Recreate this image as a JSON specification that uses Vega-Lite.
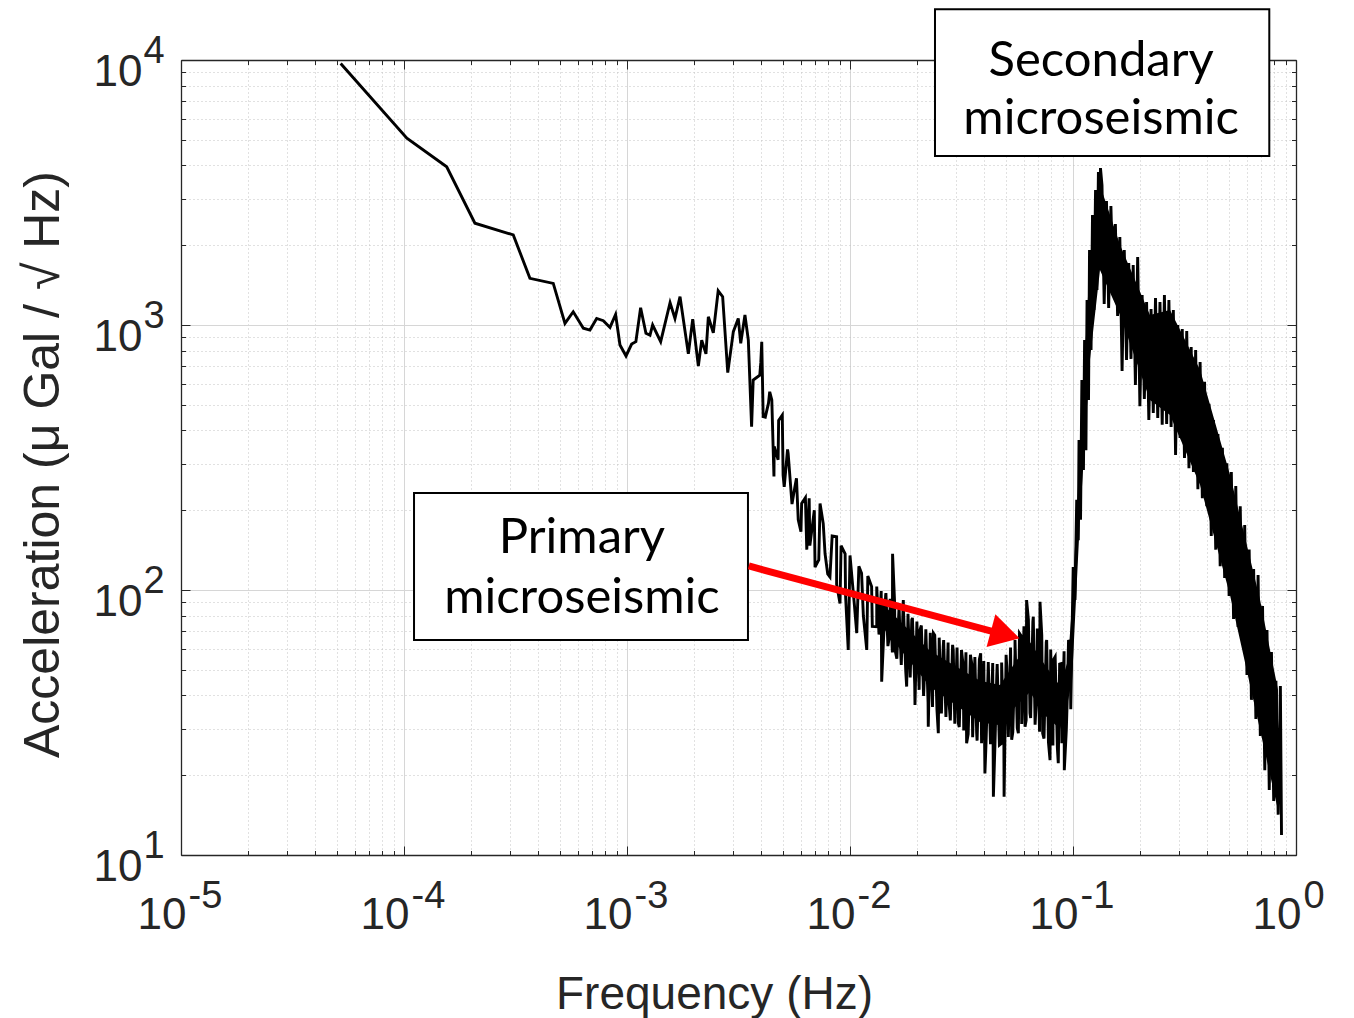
{
  "$schema": "https://vega.github.io/schema/vega-lite/v6.json",
  "width": 1115,
  "height": 795,
  "autosize": {"type": "none"},
  "padding": {"left": 181, "top": 60, "right": 58, "bottom": 163},
  "background": "white",
  "config": {"view": {"stroke": null}},
  "datasets": {
    "psd": [
      {"f":5.2e-5,"v":9700},{"f":1.03e-4,"v":5070},{"f":1.554e-4,"v":3955},{"f":2.08e-4,"v":2421},{"f":3.09e-4,"v":2188},
      {"f":3.67e-4,"v":1500},{"f":4.67e-4,"v":1435},{"f":5.27e-4,"v":1014},{"f":5.74e-4,"v":1122},{"f":6.37e-4,"v":973},
      {"f":6.82e-4,"v":957},{"f":7.31e-4,"v":1059},{"f":7.83e-4,"v":1038},{"f":8.39e-4,"v":979},{"f":8.89e-4,"v":1096},
      {"f":9.30e-4,"v":841},{"f":9.90e-4,"v":764},{"f":1.049e-3,"v":847},{"f":1.096e-3,"v":865},{"f":1.151e-3,"v":1161},
      {"f":1.216e-3,"v":931},{"f":1.268e-3,"v":916},{"f":1.303e-3,"v":1000},{"f":1.416e-3,"v":865},{"f":1.56e-3,"v":1213},
      {"f":1.641e-3,"v":1059},{"f":1.729e-3,"v":1279},{"f":1.884e-3,"v":778},{"f":1.971e-3,"v":1052},{"f":2.089e-3,"v":700},
      {"f":2.163e-3,"v":877},{"f":2.26e-3,"v":778},{"f":2.316e-3,"v":1074},{"f":2.438e-3,"v":935},{"f":2.564e-3,"v":1346},
      {"f":2.685e-3,"v":1279},{"f":2.83e-3,"v":661},{"f":2.998e-3,"v":944},{"f":3.155e-3,"v":1059},{"f":3.236e-3,"v":853},
      {"f":3.38e-3,"v":1091},{"f":3.50e-3,"v":877},{"f":3.62e-3,"v":413},{"f":3.68e-3,"v":620},{"f":3.94e-3,"v":647},
      {"f":4.02e-3,"v":865},{"f":4.08e-3,"v":451},{"f":4.31e-3,"v":507},{"f":4.46e-3,"v":521},{"f":4.56e-3,"v":268},
      {"f":4.76e-3,"v":310},{"f":4.97e-3,"v":457},{"f":5.07e-3,"v":245},{"f":5.28e-3,"v":328},{"f":5.66e-3,"v":245},
      {"f":5.86e-3,"v":184},{"f":6.07e-3,"v":212},{"f":6.40e-3,"v":142},{"f":6.56e-3,"v":222},{"f":6.97e-3,"v":122},
      {"f":7.34e-3,"v":212},{"f":7.73e-3,"v":137},{"f":8.13e-3,"v":112},{"f":8.71e-3,"v":159},{"f":9.02e-3,"v":89},
      {"f":9.51e-3,"v":137},{"f":9.82e-3,"v":59.4},{"f":0.01035,"v":97.3},{"f":0.01072,"v":68.7},{"f":0.01127,"v":115.6},
      {"f":0.01189,"v":59.4},{"f":0.0125,"v":103},{"f":0.01318,"v":72.7},{"f":0.01387,"v":45.1},{"f":0.01449,"v":97.3},
      {"f":0.0151,"v":68.7},{"f":0.01552,"v":137},{"f":0.01592,"v":59.4},{"f":0.01675,"v":68.7},{"f":0.01734,"v":91.6},
      {"f":0.01795,"v":43.2},{"f":0.01892,"v":77.1},{"f":0.01956,"v":36.8},{"f":0.0206,"v":70.6},{"f":0.02168,"v":52.8},
      {"f":0.02244,"v":30.5},{"f":0.02366,"v":68.7},{"f":0.02489,"v":28.8},{"f":0.02618,"v":61.1},{"f":0.02761,"v":40.7},
      {"f":0.02904,"v":59.4},{"f":0.03061,"v":31.4},{"f":0.03221,"v":51.4},{"f":0.03334,"v":26.4},{"f":0.03516,"v":52.8},
      {"f":0.03698,"v":28.8},{"f":0.03855,"v":57.7},{"f":0.04027,"v":20.3},{"f":0.04169,"v":52.8},{"f":0.04395,"v":16.6},
      {"f":0.0455,"v":47.1},{"f":0.04786,"v":26.4},{"f":0.04909,"v":16.6},{"f":0.05047,"v":51.4},{"f":0.05309,"v":27.2},
      {"f":0.05495,"v":57.7},{"f":0.05689,"v":28.8},{"f":0.05888,"v":66.7},{"f":0.06095,"v":30.5},{"f":0.06194,"v":91.6},
      {"f":0.06412,"v":34.3},{"f":0.06637,"v":79.3},{"f":0.0687,"v":40.7},{"f":0.07112,"v":90.3},{"f":0.07311,"v":28.8},
      {"f":0.0762,"v":64.7},{"f":0.07889,"v":22.8},{"f":0.08166,"v":54.5},{"f":0.0859,"v":22.2},{"f":0.08892,"v":52.8},
      {"f":0.09141,"v":20.9},{"f":0.09419,"v":38.5},{"f":0.09705,"v":62.9},
      {"f":3.981e-3,"v":721},{"f":4.169e-3,"v":449},{"f":4.365e-3,"v":560},{"f":4.571e-3,"v":348},{"f":4.786e-3,"v":436},
      {"f":5.012e-3,"v":271},{"f":5.248e-3,"v":339},{"f":5.495e-3,"v":211},{"f":5.754e-3,"v":264},{"f":6.026e-3,"v":166},
      {"f":6.310e-3,"v":223},{"f":6.607e-3,"v":147},{"f":6.918e-3,"v":200},{"f":7.244e-3,"v":130},{"f":7.586e-3,"v":178},
      {"f":7.943e-3,"v":115},{"f":8.318e-3,"v":160},{"f":8.710e-3,"v":105},{"f":9.120e-3,"v":147},{"f":9.550e-3,"v":95.7},
      {"f":0.01,"v":135},{"f":0.01047,"v":87.4},{"f":0.01096,"v":123},{"f":0.01148,"v":79.8},{"f":0.01202,"v":113},
      {"f":0.01259,"v":72.9},{"f":0.01318,"v":103},{"f":0.01349,"v":67.9},{"f":0.0138,"v":99.1},{"f":0.01413,"v":64.7},
      {"f":0.01445,"v":95.7},{"f":0.01479,"v":61.4},{"f":0.01514,"v":92.7},{"f":0.01549,"v":58.1},{"f":0.01585,"v":89.7},
      {"f":0.01622,"v":55.1},{"f":0.0166,"v":86.7},{"f":0.01698,"v":52.1},{"f":0.01738,"v":83.9},{"f":0.01778,"v":49.4},
      {"f":0.0182,"v":81.3},{"f":0.01862,"v":46.8},{"f":0.01905,"v":78.5},{"f":0.0195,"v":44.4},{"f":0.01995,"v":76.0},
      {"f":0.02042,"v":42.0},{"f":0.02089,"v":73.5},{"f":0.02138,"v":39.8},{"f":0.02188,"v":71.1},{"f":0.02239,"v":37.7},
      {"f":0.02291,"v":68.9},{"f":0.02344,"v":36.2},{"f":0.02399,"v":67.5},{"f":0.02455,"v":35.2},{"f":0.02512,"v":66.1},
      {"f":0.0257,"v":34.2},{"f":0.0263,"v":64.7},{"f":0.02692,"v":33.2},{"f":0.02754,"v":63.4},{"f":0.02818,"v":32.2},
      {"f":0.02884,"v":62.1},{"f":0.02951,"v":31.3},{"f":0.0302,"v":60.7},{"f":0.0309,"v":30.4},{"f":0.03162,"v":59.4},
      {"f":0.03236,"v":29.5},{"f":0.03311,"v":58.2},{"f":0.03388,"v":28.6},{"f":0.03467,"v":57.0},{"f":0.03548,"v":27.8},
      {"f":0.03631,"v":55.8},{"f":0.03715,"v":27.0},{"f":0.03802,"v":54.7},{"f":0.0389,"v":26.4},{"f":0.03981,"v":54.0},
      {"f":0.04074,"v":26.4},{"f":0.04169,"v":53.5},{"f":0.04266,"v":26.2},{"f":0.04365,"v":53.0},{"f":0.04467,"v":26.1},
      {"f":0.04571,"v":52.5},{"f":0.04677,"v":26.0},{"f":0.04786,"v":53.3},{"f":0.04898,"v":26.9},{"f":0.05012,"v":56.9},
      {"f":0.05129,"v":27.9},{"f":0.05248,"v":60.7},{"f":0.0537,"v":29.0},{"f":0.05495,"v":64.7},{"f":0.05623,"v":30.1},
      {"f":0.05754,"v":68.7},{"f":0.05888,"v":31.2},{"f":0.06026,"v":72.9},{"f":0.06166,"v":32.3},{"f":0.0631,"v":77.4},
      {"f":0.06457,"v":32.9},{"f":0.06607,"v":76.0},{"f":0.06761,"v":31.0},{"f":0.06918,"v":71.6},{"f":0.07079,"v":29.2},
      {"f":0.07244,"v":67.5},{"f":0.07413,"v":27.5},{"f":0.07586,"v":63.5},{"f":0.07762,"v":26.6},{"f":0.07943,"v":59.6},
      {"f":0.08128,"v":25.9},{"f":0.08318,"v":56.0},{"f":0.08511,"v":25.3},{"f":0.0871,"v":52.5},{"f":0.08913,"v":26.4},
      {"f":0.0912,"v":58.7},{"f":0.09333,"v":29.6},{"f":0.0955,"v":64.7},{"f":0.09772,"v":35.5},
      {"f":0.1002,"v":122},{"f":0.1021,"v":91.6},{"f":0.1039,"v":219},{"f":0.1056,"v":154},{"f":0.1064,"v":368},
      {"f":0.1081,"v":184},{"f":0.1096,"v":620},{"f":0.1114,"v":284},{"f":0.1127,"v":877},{"f":0.1143,"v":337},
      {"f":0.1156,"v":1242},{"f":0.1174,"v":521},{"f":0.1186,"v":1919},{"f":0.1205,"v":805},{"f":0.1223,"v":2600},
      {"f":0.1242,"v":1140},{"f":0.1262,"v":3228},{"f":0.1281,"v":1355},{"f":0.13,"v":3776},{"f":0.1315,"v":1758},
      {"f":0.1328,"v":3908},
      {"f":0.1349,"v":3373},{"f":0.138,"v":1200},{"f":0.1413,"v":2938},{"f":0.1445,"v":1159},{"f":0.1479,"v":2812},
      {"f":0.1514,"v":1343},{"f":0.1549,"v":2404},{"f":0.1585,"v":1081},{"f":0.1622,"v":2148},{"f":0.166,"v":670},
      {"f":0.1698,"v":1919},{"f":0.1738,"v":738},{"f":0.1778,"v":1714},{"f":0.182,"v":745},{"f":0.1862,"v":1683},
      {"f":0.1905,"v":594},{"f":0.195,"v":1807},{"f":0.1995,"v":494},{"f":0.2042,"v":1297},{"f":0.2089,"v":526},
      {"f":0.2138,"v":1222},{"f":0.2188,"v":438},{"f":0.2239,"v":1148},{"f":0.2291,"v":466},{"f":0.2344,"v":1265},
      {"f":0.2399,"v":446},{"f":0.2455,"v":1222},{"f":0.2512,"v":420},{"f":0.257,"v":1297},{"f":0.263,"v":423},
      {"f":0.2692,"v":1242},{"f":0.2754,"v":412},{"f":0.2818,"v":1140},{"f":0.2884,"v":323},{"f":0.2951,"v":1000},
      {"f":0.302,"v":375},{"f":0.309,"v":966},{"f":0.3162,"v":315},{"f":0.3236,"v":949},{"f":0.3311,"v":288},
      {"f":0.3388,"v":826},{"f":0.3467,"v":279},{"f":0.3548,"v":805},{"f":0.3631,"v":240},{"f":0.3715,"v":725},
      {"f":0.3802,"v":222},{"f":0.389,"v":610},{"f":0.3981,"v":207},{"f":0.4074,"v":504},{"f":0.4169,"v":160},
      {"f":0.4266,"v":438},{"f":0.4365,"v":142},{"f":0.4467,"v":388},{"f":0.4571,"v":123},{"f":0.4677,"v":344},
      {"f":0.4786,"v":111},{"f":0.4898,"v":301},{"f":0.5012,"v":94.9},{"f":0.5129,"v":279},{"f":0.5248,"v":77.7},
      {"f":0.537,"v":247},{"f":0.5495,"v":72.5},{"f":0.5623,"v":207},{"f":0.5754,"v":64.7},{"f":0.5888,"v":176},
      {"f":0.6026,"v":47.8},{"f":0.6166,"v":142},{"f":0.631,"v":38.5},{"f":0.6457,"v":120},{"f":0.6607,"v":32.6},
      {"f":0.6761,"v":114},{"f":0.6918,"v":28.1},{"f":0.7079,"v":87.1},{"f":0.7244,"v":20.9},{"f":0.7413,"v":70.6},
      {"f":0.7586,"v":17.6},{"f":0.7762,"v":58.3},{"f":0.7943,"v":16.0},{"f":0.8128,"v":45.4},{"f":0.8318,"v":14.2},
      {"f":0.8511,"v":43.4},{"f":0.861,"v":11.9}
    ],
    "band": [
      {"f":0.01361,"lo":74.6,"hi":90.7},{"f":0.02286,"lo":43.1,"hi":58.9},{"f":0.03828,"lo":31.7,"hi":45.5},
      {"f":0.0471,"lo":30.9,"hi":43.8},{"f":0.05495,"lo":36.1,"hi":53.2},{"f":0.06412,"lo":41.2,"hi":63.7},
      {"f":0.07482,"lo":33.7,"hi":52.1},{"f":0.0875,"lo":29.9,"hi":43.4},{"f":0.09506,"lo":38.4,"hi":54.4},
      {"f":0.099,"lo":45.7,"hi":88},{"f":0.1074,"lo":184,"hi":337},{"f":0.1191,"lo":738,"hi":1758},
      {"f":0.1321,"lo":1613,"hi":3373},{"f":0.1626,"lo":1091,"hi":2004},{"f":0.2213,"lo":521,"hi":1091},
      {"f":0.2723,"lo":457,"hi":1140},{"f":0.3715,"lo":249,"hi":676},{"f":0.5058,"lo":95.7,"hi":272},
      {"f":0.69,"lo":29.6,"hi":91.6},{"f":0.83,"lo":14.8,"hi":42}
    ],
    "boxes": [
      {"x1":0.02405,"x2":0.759,"y1":15535,"y2":4342},
      {"x1":1.109e-4,"x2":3.487e-3,"y1":232.3,"y2":64.76}
    ],
    "labels": [
      {"f":0.1337,"v":8710,"text":"Secondary"},
      {"f":0.1337,"v":5258,"text":"microseismic"},
      {"f":6.28e-4,"v":137.9,"text":"Primary"},
      {"f":6.28e-4,"v":81.9,"text":"microseismic"}
    ],
    "arrow": [{"f1":3.517e-3,"v1":123.2,"f2":0.04469,"v2":69.4}],
    "head": [{"f":0.04966,"v":67.96}]
  },
  "resolve": {"axis": {"x": "independent", "y": "independent"}},
  "layer": [
    {
      "data": {"name": "band"},
      "mark": {"type": "area", "color": "#000000", "opacity": 1},
      "encoding": {
        "x": {"field": "f", "type": "quantitative",
          "scale": {"type": "log", "domain": [0.00001, 1], "nice": false},
          "axis": {
            "orient": "bottom",
            "values": [0.00001,0.00002,0.00003,0.00004,0.00005,0.00006,0.00007,0.00008,0.00009,0.0001,0.0002,0.0003,0.0004,0.0005,0.0006,0.0007,0.0008,0.0009,0.001,0.002,0.003,0.004,0.005,0.006,0.007,0.008,0.009,0.01,0.02,0.03,0.04,0.05,0.06,0.07,0.08,0.09,0.1,0.2,0.3,0.4,0.5,0.6,0.7,0.8,0.9,1],
            "ticks": false,
            "domain": true, "domainColor": "#262626", "domainWidth": 1.3,
            "grid": true,
            "gridWidth": 1,
            "gridColor": {"condition": {"test": "abs(log(datum.value)/LN10 - round(log(datum.value)/LN10)) < 0.001", "value": "#d6d6d6"}, "value": "#c2c2c2"},
            "gridDash": {"condition": {"test": "abs(log(datum.value)/LN10 - round(log(datum.value)/LN10)) < 0.001", "value": []}, "value": [1, 3]},
            "labelExpr": "abs(log(datum.value)/LN10 - round(log(datum.value)/LN10)) < 0.001 ? '10' : ''",
            "labelAlign": "right", "labelOffset": 5, "labelBaseline": "alphabetic", "labelPadding": 73,
            "labelFont": "Liberation Sans", "labelFontSize": 44, "labelColor": "#262626",
            "labelOverlap": false, "labelFlush": false, "labelBound": false,
            "title": "Frequency (Hz)",
            "titleFont": "Liberation Sans", "titleFontSize": 46, "titleFontWeight": "normal", "titleColor": "#262626",
            "titleX": 533, "titleY": 153, "titleBaseline": "alphabetic", "titleAlign": "center"
          }
        },
        "y": {"field": "lo", "type": "quantitative",
          "scale": {"type": "log", "domain": [10, 10000], "nice": false},
          "axis": {
            "orient": "left",
            "values": [10,20,30,40,50,60,70,80,90,100,200,300,400,500,600,700,800,900,1000,2000,3000,4000,5000,6000,7000,8000,9000,10000],
            "ticks": false,
            "domain": true, "domainColor": "#262626", "domainWidth": 1.3,
            "grid": true,
            "gridWidth": 1,
            "gridColor": {"condition": {"test": "abs(log(datum.value)/LN10 - round(log(datum.value)/LN10)) < 0.001", "value": "#d6d6d6"}, "value": "#c2c2c2"},
            "gridDash": {"condition": {"test": "abs(log(datum.value)/LN10 - round(log(datum.value)/LN10)) < 0.001", "value": []}, "value": [1, 3]},
            "labelExpr": "abs(log(datum.value)/LN10 - round(log(datum.value)/LN10)) < 0.001 ? '10' : ''",
            "labelAlign": "right", "labelOffset": 25, "labelBaseline": "alphabetic", "labelPadding": 39,
            "labelFont": "Liberation Sans", "labelFontSize": 44, "labelColor": "#262626",
            "labelOverlap": false, "labelFlush": false, "labelBound": false,
            "title": "Acceleration (μ Gal / √ Hz)",
            "titleFont": "Liberation Sans", "titleFontSize": 50, "titleFontWeight": "normal", "titleColor": "#262626",
            "titleX": -123, "titleY": 404, "titleAngle": -90, "titleBaseline": "alphabetic", "titleAlign": "center"
          }
        },
        "y2": {"field": "hi"}
      }
    },
    {
      "data": {"name": "psd"},
      "mark": {"type": "line", "color": "#000000", "strokeWidth": 2.9, "strokeJoin": "miter"},
      "encoding": {
        "x": {"field": "f", "type": "quantitative",
          "scale": {"type": "log", "domain": [0.00001, 1], "nice": false},
          "axis": {
            "orient": "top",
            "values": [0.00001,0.00002,0.00003,0.00004,0.00005,0.00006,0.00007,0.00008,0.00009,0.0001,0.0002,0.0003,0.0004,0.0005,0.0006,0.0007,0.0008,0.0009,0.001,0.002,0.003,0.004,0.005,0.006,0.007,0.008,0.009,0.01,0.02,0.03,0.04,0.05,0.06,0.07,0.08,0.09,0.1,0.2,0.3,0.4,0.5,0.6,0.7,0.8,0.9,1],
            "labels": false, "grid": false, "title": null,
            "domain": true, "domainColor": "#262626", "domainWidth": 1.3,
            "ticks": true, "tickColor": "#262626", "tickWidth": 1,
            "tickSize": {"condition": {"test": "abs(log(datum.value)/LN10 - round(log(datum.value)/LN10)) < 0.001", "value": -9}, "value": -4.5}
          }
        },
        "y": {"field": "v", "type": "quantitative",
          "scale": {"type": "log", "domain": [10, 10000], "nice": false},
          "axis": {
            "orient": "right",
            "values": [10,20,30,40,50,60,70,80,90,100,200,300,400,500,600,700,800,900,1000,2000,3000,4000,5000,6000,7000,8000,9000,10000],
            "labels": false, "grid": false, "title": null,
            "domain": true, "domainColor": "#262626", "domainWidth": 1.3,
            "ticks": true, "tickColor": "#262626", "tickWidth": 1,
            "tickSize": {"condition": {"test": "abs(log(datum.value)/LN10 - round(log(datum.value)/LN10)) < 0.001", "value": -9}, "value": -4.5}
          }
        }
      }
    },
    {
      "data": {"name": "boxes"},
      "mark": {"type": "rect", "fill": "#ffffff", "stroke": "#000000", "strokeWidth": 2},
      "encoding": {
        "x": {"field": "x1", "type": "quantitative",
          "scale": {"type": "log", "domain": [0.00001, 1], "nice": false},
          "axis": {
            "orient": "bottom",
            "values": [0.00001, 0.0001, 0.001, 0.01, 0.1, 1],
            "ticks": false, "domain": false, "grid": false, "title": null,
            "labelExpr": "'' + round(log(datum.value)/LN10)",
            "labelAlign": "left", "labelOffset": 7, "labelBaseline": "alphabetic", "labelPadding": 52,
            "labelFont": "Liberation Sans", "labelFontSize": 38, "labelColor": "#262626",
            "labelOverlap": false, "labelFlush": false, "labelBound": false
          }
        },
        "x2": {"field": "x2"},
        "y": {"field": "y1", "type": "quantitative",
          "scale": {"type": "log", "domain": [10, 10000], "nice": false},
          "axis": {
            "orient": "left",
            "values": [10, 100, 1000, 10000],
            "ticks": false, "domain": false, "grid": false, "title": null,
            "labelExpr": "'' + round(log(datum.value)/LN10)",
            "labelAlign": "left", "labelOffset": 2, "labelBaseline": "alphabetic", "labelPadding": 38,
            "labelFont": "Liberation Sans", "labelFontSize": 38, "labelColor": "#262626",
            "labelOverlap": false, "labelFlush": false, "labelBound": false
          }
        },
        "y2": {"field": "y2"}
      }
    },
    {
      "data": {"name": "labels"},
      "mark": {"type": "text", "font": "Lato", "fontSize": 49, "align": "center", "baseline": "alphabetic", "color": "#000000"},
      "encoding": {
        "x": {"field": "f", "type": "quantitative",
          "scale": {"type": "log", "domain": [0.00001, 1], "nice": false},
          "axis": {
            "orient": "bottom",
            "values": [0.00001,0.00002,0.00003,0.00004,0.00005,0.00006,0.00007,0.00008,0.00009,0.0001,0.0002,0.0003,0.0004,0.0005,0.0006,0.0007,0.0008,0.0009,0.001,0.002,0.003,0.004,0.005,0.006,0.007,0.008,0.009,0.01,0.02,0.03,0.04,0.05,0.06,0.07,0.08,0.09,0.1,0.2,0.3,0.4,0.5,0.6,0.7,0.8,0.9,1],
            "labels": false, "grid": false, "title": null, "domain": false,
            "ticks": true, "tickColor": "#262626", "tickWidth": 1,
            "tickSize": {"condition": {"test": "abs(log(datum.value)/LN10 - round(log(datum.value)/LN10)) < 0.001", "value": -9}, "value": -4.5}
          }
        },
        "y": {"field": "v", "type": "quantitative",
          "scale": {"type": "log", "domain": [10, 10000], "nice": false},
          "axis": {
            "orient": "left",
            "values": [10,20,30,40,50,60,70,80,90,100,200,300,400,500,600,700,800,900,1000,2000,3000,4000,5000,6000,7000,8000,9000,10000],
            "labels": false, "grid": false, "title": null, "domain": false,
            "ticks": true, "tickColor": "#262626", "tickWidth": 1,
            "tickSize": {"condition": {"test": "abs(log(datum.value)/LN10 - round(log(datum.value)/LN10)) < 0.001", "value": -9}, "value": -4.5}
          }
        },
        "text": {"field": "text", "type": "nominal"}
      }
    },
    {
      "data": {"name": "arrow"},
      "mark": {"type": "rule", "color": "#ff0000", "strokeWidth": 7},
      "encoding": {
        "x": {"field": "f1", "type": "quantitative", "scale": {"type": "log", "domain": [0.00001, 1], "nice": false}, "axis": null},
        "x2": {"field": "f2"},
        "y": {"field": "v1", "type": "quantitative", "scale": {"type": "log", "domain": [10, 10000], "nice": false}, "axis": null},
        "y2": {"field": "v2"}
      }
    },
    {
      "data": {"name": "head"},
      "mark": {"type": "point", "shape": "triangle-right", "size": 1156, "angle": 15, "filled": true, "color": "#ff0000", "opacity": 1, "strokeWidth": 0},
      "encoding": {
        "x": {"field": "f", "type": "quantitative", "scale": {"type": "log", "domain": [0.00001, 1], "nice": false}, "axis": null},
        "y": {"field": "v", "type": "quantitative", "scale": {"type": "log", "domain": [10, 10000], "nice": false}, "axis": null}
      }
    }
  ]
}
